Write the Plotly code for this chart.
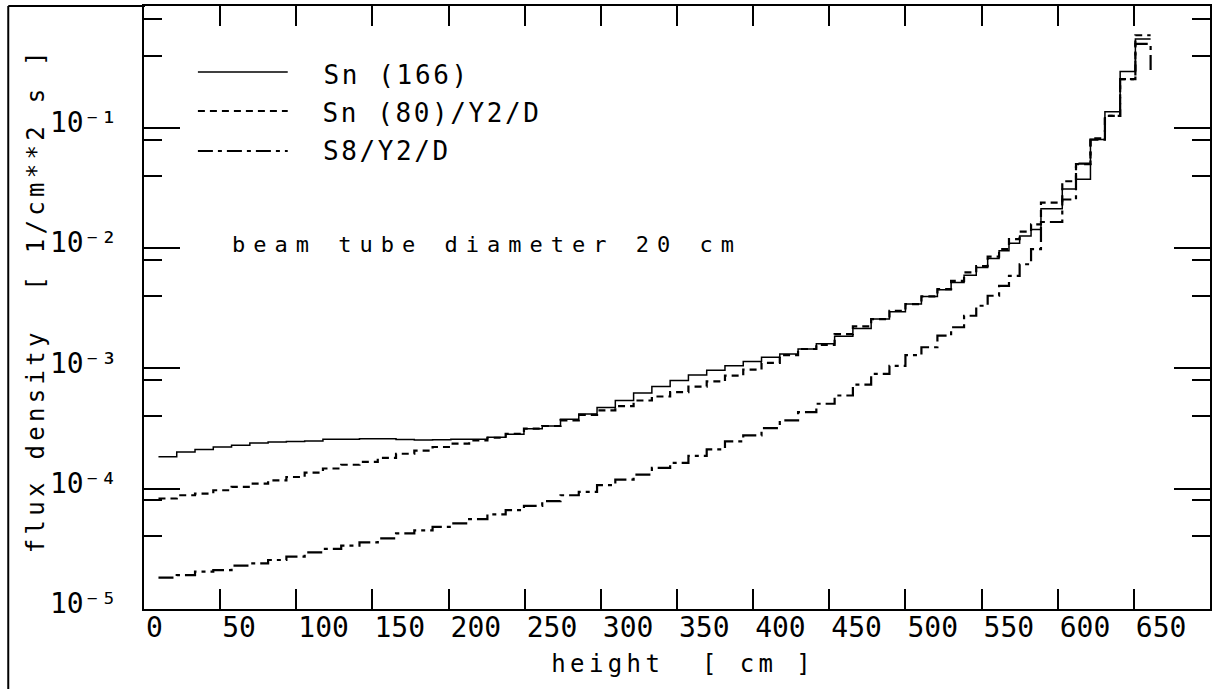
import plotly.graph_objects as go

# ---- data ----
height_edges = [9.5, 21.5, 33.5, 45.5, 57.5, 69.5, 81.5, 93.5, 105.5, 117.5,
                129.5, 141.5, 153.5, 165.5, 177.5, 189.5, 201.5, 213.5, 225.5, 237.5,
                249.5, 261.5, 273.5, 285.5, 297.5, 309.5, 321.5, 333.5, 345.5, 357.5,
                369.5, 381.5, 393.5, 405.5, 417.5, 429.5, 441.5, 453.5, 465.5, 477.5,
                489.5, 500, 510.5, 521, 530, 538.5, 546.5, 554, 561.5, 568,
                575, 582.5, 589, 596, 603, 612, 621.5, 631, 641, 651, 661]

sn166 = [1.84e-4, 2.02e-4, 2.12e-4, 2.22e-4, 2.29e-4, 2.40e-4, 2.44e-4, 2.47e-4, 2.49e-4, 2.57e-4,
         2.58e-4, 2.60e-4, 2.60e-4, 2.56e-4, 2.54e-4, 2.55e-4, 2.57e-4, 2.58e-4, 2.67e-4, 2.84e-4,
         3.15e-4, 3.32e-4, 3.77e-4, 4.17e-4, 4.73e-4, 5.41e-4, 6.23e-4, 7.06e-4, 7.92e-4, 8.83e-4,
         9.66e-4, 1.05e-3, 1.14e-3, 1.24e-3, 1.32e-3, 1.45e-3, 1.60e-3, 1.85e-3, 2.15e-3, 2.57e-3,
         2.96e-3, 3.43e-3, 3.97e-3, 4.50e-3, 5.19e-3, 5.96e-3, 6.90e-3, 8.20e-3, 9.50e-3, 1.10e-2,
         1.26e-2, 1.43e-2, 2.13e-2, 2.13e-2, 3.10e-2, 3.75e-2, 8.0e-2, 1.36e-1, 2.94e-1, 5.5e-1]

sn80 = [8.28e-5, 8.81e-5, 9.10e-5, 9.70e-5, 1.035e-4, 1.10e-4, 1.17e-4, 1.25e-4, 1.36e-4, 1.47e-4,
        1.58e-4, 1.67e-4, 1.80e-4, 1.95e-4, 2.07e-4, 2.22e-4, 2.37e-4, 2.52e-4, 2.65e-4, 2.86e-4,
        3.15e-4, 3.32e-4, 3.69e-4, 4.11e-4, 4.47e-4, 4.86e-4, 5.41e-4, 5.84e-4, 6.35e-4, 7.06e-4,
        7.80e-4, 8.70e-4, 9.77e-4, 1.11e-3, 1.29e-3, 1.45e-3, 1.57e-3, 1.93e-3, 2.24e-3, 2.57e-3,
        3.01e-3, 3.43e-3, 3.97e-3, 4.56e-3, 5.35e-3, 6.28e-3, 7.10e-3, 8.50e-3, 9.80e-3, 1.19e-2,
        1.37e-2, 1.58e-2, 2.39e-2, 2.39e-2, 3.60e-2, 5.0e-2, 8.2e-2, 1.26e-1, 2.55e-1, 5.9e-1]

s8 = [1.82e-5, 1.91e-5, 2.04e-5, 2.10e-5, 2.29e-5, 2.39e-5, 2.55e-5, 2.72e-5, 2.95e-5, 3.15e-5,
      3.36e-5, 3.57e-5, 3.86e-5, 4.24e-5, 4.50e-5, 4.80e-5, 5.14e-5, 5.58e-5, 6.10e-5, 6.62e-5,
      7.20e-5, 7.87e-5, 8.81e-5, 9.40e-5, 1.07e-4, 1.19e-4, 1.31e-4, 1.49e-4, 1.64e-4, 1.87e-4,
      2.12e-4, 2.47e-4, 2.77e-4, 3.19e-4, 3.69e-4, 4.33e-4, 5.08e-4, 5.95e-4, 7.34e-4, 9.00e-4,
      1.05e-3, 1.29e-3, 1.50e-3, 1.87e-3, 2.20e-3, 2.74e-3, 3.32e-3, 4.02e-3, 4.86e-3, 5.88e-3,
      7.35e-3, 9.80e-3, 1.65e-2, 1.65e-2, 2.54e-2, 5.05e-2, 8.0e-2, 1.26e-1, 2.55e-1, 5.0e-1]
s8_tail = 2.78e-1

series_names = ["Sn (166)", "Sn (80)/Y2/D", "S8/Y2/D"]
x_ticks = [0, 50, 100, 150, 200, 250, 300, 350, 400, 450, 500, 550, 600, 650]
y_major = [1e-5, 1e-4, 1e-3, 1e-2, 1e-1]
y_major_text = ["10⁻⁵", "10⁻⁴", "10⁻³", "10⁻²", "10⁻¹"]
y_minor = [4e-5, 8e-5, 4e-4, 8e-4, 4e-3, 8e-3, 4e-2, 8e-2, 4e-1, 8e-1]

FONT = "DejaVu Sans Mono"
W, H = 1214, 689
L, R, T, B = 144, 2, 6, 80
PW, PH = W - L - R, H - T - B


def px(xp):
    return (xp - L) / PW


def py(yp):
    return (H - B - yp) / PH


dash_sn80 = "7px,5px"
dash_s8 = "15px,5px,4px,5px"

fig = go.Figure()
fig.add_trace(go.Scatter(x=height_edges, y=sn166 + [sn166[-1]], mode="lines",
                         line=dict(shape="hv", color="black", width=1.5),
                         name=series_names[0], showlegend=False))
fig.add_trace(go.Scatter(x=height_edges, y=sn80 + [sn80[-1]], mode="lines",
                         line=dict(shape="hv", color="black", width=2.2, dash=dash_sn80),
                         name=series_names[1], showlegend=False))
fig.add_trace(go.Scatter(x=height_edges + [height_edges[-1]], y=s8 + [s8[-1], s8_tail],
                         mode="lines",
                         line=dict(shape="hv", color="black", width=2.2, dash=dash_s8),
                         name=series_names[2], showlegend=False))

# legend samples and outer frame
shapes = []
for yy, dsh, wd in [(72, "solid", 1.5), (111, dash_sn80, 2.0), (151, dash_s8, 2.0)]:
    shapes.append(dict(type="line", xref="paper", yref="paper",
                       x0=px(198), x1=px(288), y0=py(yy), y1=py(yy),
                       line=dict(color="black", width=wd, dash=dsh)))
shapes.append(dict(type="line", xref="paper", yref="paper", x0=px(8), x1=px(8),
                   y0=py(6), y1=py(692), line=dict(color="black", width=2)))
shapes.append(dict(type="line", xref="paper", yref="paper", x0=px(8), x1=px(145),
                   y0=py(6), y1=py(6), line=dict(color="black", width=2)))

annotations = [
    dict(text=series_names[0], x=px(397), y=py(75), font=dict(size=26)),
    dict(text=series_names[1], x=px(433), y=py(112.5), font=dict(size=26)),
    dict(text=series_names[2], x=px(387.5), y=py(151), font=dict(size=26)),
    dict(text="beam tube diameter 20 cm", x=px(487.5), y=py(245), font=dict(size=22)),
    dict(text="height  [ cm ]", x=px(684), y=py(664), font=dict(size=24)),
    dict(text="flux density  [ 1/cm**2 s ]", x=px(36), y=py(300), font=dict(size=24),
         textangle=-90),
]
for a in annotations:
    a.update(xref="paper", yref="paper", xanchor="center", yanchor="middle",
             showarrow=False)
    a["font"].update(family=FONT, color="black")
letter_spacing = [2.6, 2.6, 2.6, 8, 4.4, 4.3]

fig.update_layout(
    width=W, height=H, margin=dict(l=L, r=R, t=T, b=B, pad=0),
    paper_bgcolor="white", plot_bgcolor="white",
    font=dict(family=FONT, color="black", size=28),
    shapes=shapes, annotations=annotations, showlegend=False,
)
fig.update_xaxes(range=[0, 700], tickmode="array", tickvals=x_ticks,
                 ticks="inside", ticklen=20, tickwidth=2, tickcolor="black",
                 showline=True, linewidth=2, linecolor="black", mirror="allticks",
                 showgrid=False, zeroline=False, ticklabelposition="outside right",
                 ticklabelstandoff=-8,
                 tickfont=dict(size=28, family=FONT))
fig.update_yaxes(type="log", range=[-5.001, 0.014], tickmode="array",
                 tickvals=y_major, ticktext=y_major_text,
                 ticks="inside", ticklen=36, tickwidth=2, tickcolor="black",
                 minor=dict(tickmode="array", tickvals=y_minor, ticks="inside",
                            ticklen=18, tickwidth=2, tickcolor="black", showgrid=False),
                 showline=True, linewidth=2, linecolor="black", mirror="allticks",
                 showgrid=False, zeroline=False, ticklabelposition="outside top",
                 ticklabelstandoff=19, ticklabelshift=15,
                 tickfont=dict(size=28, family=FONT))

post = """
document.body.style.margin = '0';
var gd = document.getElementById('{plot_id}');
var SP = %s;
function applySpacing() {
  gd.querySelectorAll('g.annotation').forEach(function (g) {
    var i = +g.getAttribute('data-index');
    var t = g.querySelector('text.annotation-text');
    if (t && SP[i] !== undefined) { t.style.letterSpacing = SP[i] + 'px'; }
  });
}
applySpacing();
gd.on('plotly_afterplot', applySpacing);
""" % str(letter_spacing)

fig.write_html("out.html", post_script=post, config={"displayModeBar": False})
